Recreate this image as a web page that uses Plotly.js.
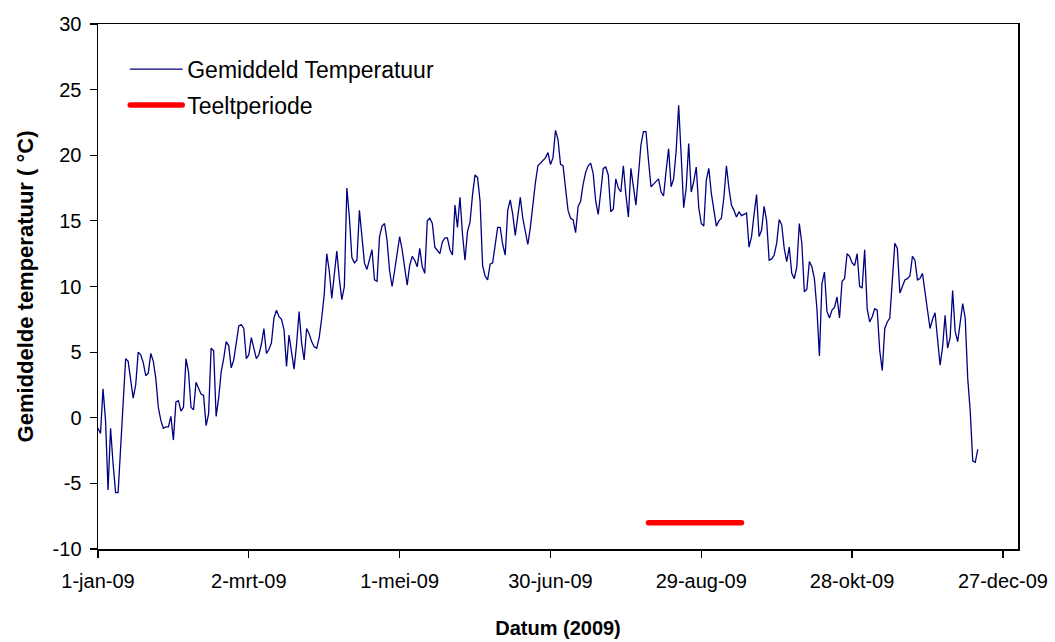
<!DOCTYPE html>
<html>
<head>
<meta charset="utf-8">
<script src="https://cdn.plot.ly/plotly-3.0.1.min.js"></script>
<style>
html, body { margin: 0; padding: 0; background: #fff; }
#chart { width: 1055px; height: 642px; }
.scatterlayer .trace:last-child .js-line { stroke-linecap: round; }
.legend .traces:last-child .js-line { stroke-linecap: round; }
</style>
</head>
<body>
<div id="chart"></div>
<script>
// Daily mean temperature (°C), starting 1 January 2009
const startDate = '2009-01-01';
const temperature = [
  -0.8, -1.2, 2.2, -0.2, -5.5, -0.8, -3.5, -5.7, -5.7, -2.5,
  1.5, 4.5, 4.3, 2.7, 1.5, 2.5, 5.0, 4.8, 4.2, 3.2,
  3.4, 4.9, 4.3, 3.0, 0.8, -0.2, -0.8, -0.7, -0.7, 0.1,
  -1.7, 1.2, 1.3, 0.5, 0.8, 4.5, 3.5, 0.8, 0.6, 2.7,
  2.2, 1.8, 1.7, -0.6, 0.3, 5.3, 5.1, 0.1, 1.5, 3.5,
  4.5, 5.8, 5.5, 3.8, 4.4, 5.6, 7.0, 7.1, 6.8, 4.5,
  4.8, 6.1, 5.2, 4.5, 4.8, 5.6, 6.8, 4.9, 5.2, 5.7,
  7.6, 8.2, 7.7, 7.5, 6.7, 3.9, 6.3, 4.8, 3.7, 5.6,
  8.1, 5.7, 4.4, 6.8, 6.4, 5.8, 5.4, 5.3, 6.1, 7.6,
  9.4, 12.5, 11.2, 9.1, 11.0, 12.7, 10.6, 9.0, 10.0, 17.5,
  15.3, 12.2, 11.8, 12.0, 15.8, 13.5, 11.8, 11.3, 12.0, 12.8,
  10.5, 10.4, 13.8, 14.6, 14.8, 13.5, 11.2, 10.0, 11.2, 12.5,
  13.8, 12.8, 11.5, 10.1, 11.6, 12.3, 12.0, 11.5, 12.9, 11.5,
  11.0, 15.0, 15.2, 14.8, 13.0, 12.7, 12.5, 13.4, 13.7, 13.7,
  12.8, 12.4, 16.2, 14.5, 16.8, 14.0, 12.0, 14.2, 14.9, 17.0,
  18.5, 18.3, 16.5, 11.6, 10.8, 10.5, 11.7, 11.8, 13.0, 14.5,
  14.5, 13.2, 12.4, 15.8, 16.6, 15.5, 13.9, 15.4, 16.8, 15.2,
  14.3, 13.2, 14.5, 16.3, 17.9, 19.2, 19.4, 19.6, 19.8, 20.2,
  19.3, 19.8, 21.9, 21.2, 19.3, 19.2, 17.6, 15.8, 15.2, 15.1,
  14.1, 16.1, 16.5, 17.8, 18.7, 19.2, 19.4, 18.6, 16.5, 15.5,
  17.2, 19.0, 19.1, 18.5, 15.7, 15.9, 18.2, 17.5, 17.2, 19.2,
  17.0, 15.3, 19.0, 17.5, 16.2, 18.5, 20.8, 21.8, 21.8, 19.6,
  17.6, 17.8, 18.0, 18.2, 17.2, 16.9, 18.8, 20.5, 17.6, 18.2,
  20.3, 23.8, 20.0, 16.0, 17.5, 20.9, 17.2, 18.0, 19.1, 16.0,
  14.8, 14.6, 18.1, 19.0, 17.1, 15.8, 14.6, 15.0, 15.2, 16.8,
  19.2, 17.5, 16.2, 15.8, 15.3, 15.7, 15.4, 15.5, 15.6, 13.0,
  13.8, 15.5, 17.0, 13.8, 14.3, 16.1, 15.0, 12.0, 12.1, 12.4,
  13.3, 15.1, 14.7, 12.9, 11.9, 13.0, 11.0, 10.6, 11.5, 14.8,
  13.3, 9.6, 9.8, 11.9, 11.5, 10.6, 8.3, 4.7, 10.2, 11.1,
  8.1, 7.6, 8.2, 8.4, 9.2, 7.6, 10.4, 10.6, 12.5, 12.3,
  11.8, 11.6, 12.5, 10.0, 9.9, 12.8, 8.3, 7.3, 7.7, 8.3,
  8.2, 5.1, 3.6, 6.8, 7.3, 7.6, 10.6, 13.3, 12.9, 9.5,
  10.0, 10.5, 10.6, 10.8, 12.3, 12.0, 10.5, 10.6, 11.0, 9.6,
  7.8, 6.8, 7.5, 8.0, 6.0, 4.0, 5.4, 7.8, 5.3, 6.1,
  9.7, 6.6, 5.8, 7.3, 8.7, 7.6, 3.0, 0.5, -3.3, -3.4,
  -2.4
];

// Growing period (Teeltperiode)
const periodDates = ['2009-08-08', '2009-09-14'];
const periodValues = [-8, -8];

// Axis ticks
const xTickDates = ['2009-01-01', '2009-03-02', '2009-05-01', '2009-06-30', '2009-08-29', '2009-10-28', '2009-12-27'];
const xTickLabels = ['1-jan-09', '2-mrt-09', '1-mei-09', '30-jun-09', '29-aug-09', '28-okt-09', '27-dec-09'];
const yTickValues = [-10, -5, 0, 5, 10, 15, 20, 25, 30];
const yTickLabels = ['-10', '-5', '0', '5', '10', '15', '20', '25', '30'];

function isoDay(offset) {
  const d = new Date(startDate + 'T00:00:00Z');
  d.setUTCDate(d.getUTCDate() + offset);
  return d.toISOString().slice(0, 10);
}
const dates = temperature.map((_, i) => isoDay(i));

const FONT = 'Liberation Sans, Arial, sans-serif';

const traces = [
  {
    type: 'scatter', mode: 'lines',
    x: dates, y: temperature,
    name: 'Gemiddeld Temperatuur',
    line: { color: '#000080', width: 1.3 },
    legendgroup: 'a', hoverinfo: 'x+y'
  },
  {
    type: 'scatter', mode: 'lines',
    x: periodDates, y: periodValues,
    name: 'Teeltperiode',
    line: { color: '#ff0000', width: 5.5 },
    legendgroup: 'b', hoverinfo: 'x+y'
  }
];

const layout = {
  width: 1055, height: 642,
  margin: { l: 98, r: 37, t: 24, b: 93, pad: 0 },
  paper_bgcolor: '#ffffff', plot_bgcolor: '#ffffff',
  font: { family: FONT, color: '#000000', size: 20 },
  showlegend: true,
  legend: {
    x: 0.0296, y: 0.955, xanchor: 'left', yanchor: 'top',
    bgcolor: 'rgba(0,0,0,0)', borderwidth: 0,
    font: { family: FONT, size: 23, color: '#000' },
    traceorder: 'grouped', tracegroupgap: 3,
    itemwidth: 52
  },
  xaxis: {
    type: 'date',
    range: ['2009-01-01', '2010-01-02'],
    tickmode: 'array', tickvals: xTickDates, ticktext: xTickLabels,
    ticks: 'outside', ticklen: 7, tickwidth: 1.2, tickcolor: '#000',
    showline: true, linecolor: '#000', linewidth: 1.5, mirror: true,
    showgrid: false, zeroline: false,
    tickfont: { family: FONT, size: 20, color: '#000' },
    ticklabelstandoff: 6,
    title: { text: '<b>Datum (2009)</b>', font: { family: FONT, size: 20, color: '#000' }, standoff: 30 }
  },
  yaxis: {
    range: [-10, 30],
    tickmode: 'array', tickvals: yTickValues, ticktext: yTickLabels,
    ticks: 'outside', ticklen: 7, tickwidth: 1.2, tickcolor: '#000',
    showline: true, linecolor: '#000', linewidth: 1.5, mirror: true,
    showgrid: false, zeroline: false,
    tickfont: { family: FONT, size: 20, color: '#000' },
    ticklabelstandoff: 4,
    title: { text: '<b>Gemiddelde temperatuur ( °C)</b>', font: { family: FONT, size: 22, color: '#000' }, standoff: 13 }
  }
};

Plotly.newPlot('chart', traces, layout, { displayModeBar: false, staticPlot: true });
</script>
</body>
</html>
